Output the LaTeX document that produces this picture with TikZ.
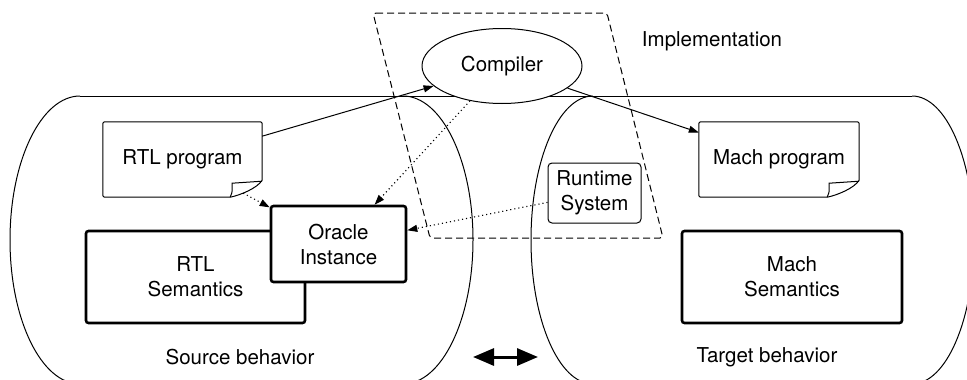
\documentclass[tikz,border=0pt]{standalone}
\usepackage{fontspec}
\setmainfont{TeX Gyre Heros}
\usetikzlibrary{calc,arrows.meta,shapes.geometric}
\newcommand{\docoutline}[1]{%
  \draw[ln, rounded corners=2pt] ([xshift=-32pt]#1.south east) -- (#1.south west) -- (#1.north west) -- (#1.north east) -- ([yshift=17pt]#1.south east);
  \draw[ln] ([yshift=17pt]#1.south east) .. controls ([xshift=-5pt,yshift=9pt]#1.south east) and ([xshift=-22pt,yshift=2pt]#1.south east) .. ([xshift=-32pt]#1.south east);
  \draw[ln] ([xshift=-32pt]#1.south east) .. controls ([xshift=-30pt,yshift=4pt]#1.south east) .. ([xshift=-30pt,yshift=14pt]#1.south east) -- ([yshift=16pt]#1.south east);
}
\begin{document}
\begin{tikzpicture}[x=1pt,y=-1pt,
  txt/.style={font=\fontsize{20.5}{25}\selectfont, align=center, inner sep=0pt},
  ln/.style={line width=1pt},
  tip/.style={-{Triangle[length=10pt,width=7pt]}},
  solidarrow/.style={ln, tip},
  dotarrow/.style={line width=1.1pt, dash pattern=on 1.1pt off 3pt, tip},
  thickbox/.style={txt, draw, line width=2.6pt, rounded corners=2.5pt, fill=white},
  docnode/.style={txt, minimum width=159pt, minimum height=75pt},
]
\useasboundingbox (0,0) rectangle (967,380);
\clip (0,0) rectangle (967,380);

% behavior outlines
\draw[ln] (80,96) -- (912,96);
\draw[ln] (80,96) arc[start angle=270, end angle=90, x radius=70, y radius=144];
\draw[ln] (403,96) arc[start angle=270, end angle=450, x radius=70, y radius=144];
\draw[ln] (593,96) arc[start angle=270, end angle=90, x radius=62, y radius=144];
\draw[ln] (912,96) arc[start angle=270, end angle=450, x radius=62, y radius=144];

% implementation region
\draw[ln, dash pattern=on 7pt off 4pt, rounded corners=3pt]
  (373,13) -- (607,13) -- (663,238) -- (430,238) -- cycle;

% nodes
\node[txt, draw, ln, ellipse, fill=white, minimum width=160pt, minimum height=75pt] (compiler) at (502,66) {Compiler};

\node[docnode] (rtlp) at (182.5,159.5) {RTL program};
\docoutline{rtlp}
\node[docnode, minimum width=160pt] (machp) at (779,159.5) {Mach program};
\docoutline{machp}

\node[txt, draw, ln, rounded corners=4pt, fill=white, minimum width=93pt, minimum height=60pt] (runtime) at (594.5,193) {Runtime\\System};

\node[thickbox, minimum width=219pt, minimum height=92pt] (rtlsem) at (195.5,277) {RTL\\Semantics};
\node[thickbox, minimum width=135pt, minimum height=76pt] (oracle) at (338.5,244) {Oracle\\Instance};
\node[thickbox, minimum width=220pt, minimum height=92pt] (machsem) at (792,277) {Mach\\Semantics};

% labels
\node[txt] (impl) at (712,41) {Implementation};
\node[txt] (src) at (240,357) {Source behavior};
\node[txt] (tgt) at (767,357) {Target behavior};

% connectors
\draw[solidarrow] (rtlp) -- (compiler);
\draw[solidarrow] (compiler) -- (machp);
\draw[dotarrow] (compiler) -- (oracle);
\draw[dotarrow] (runtime) -- (oracle);
\coordinate (rtlcurl) at ([xshift=-19pt,yshift=4pt]rtlp.south east);
\draw[dotarrow] (rtlcurl) -- (oracle);

% equivalence arrow
\coordinate (eql) at (473,357);
\coordinate (eqr) at (538,357);
\draw[line width=3pt, {Triangle[length=21pt,width=17pt]}-{Triangle[length=21pt,width=17pt]}] (eql) -- (eqr);
\end{tikzpicture}
\end{document}
